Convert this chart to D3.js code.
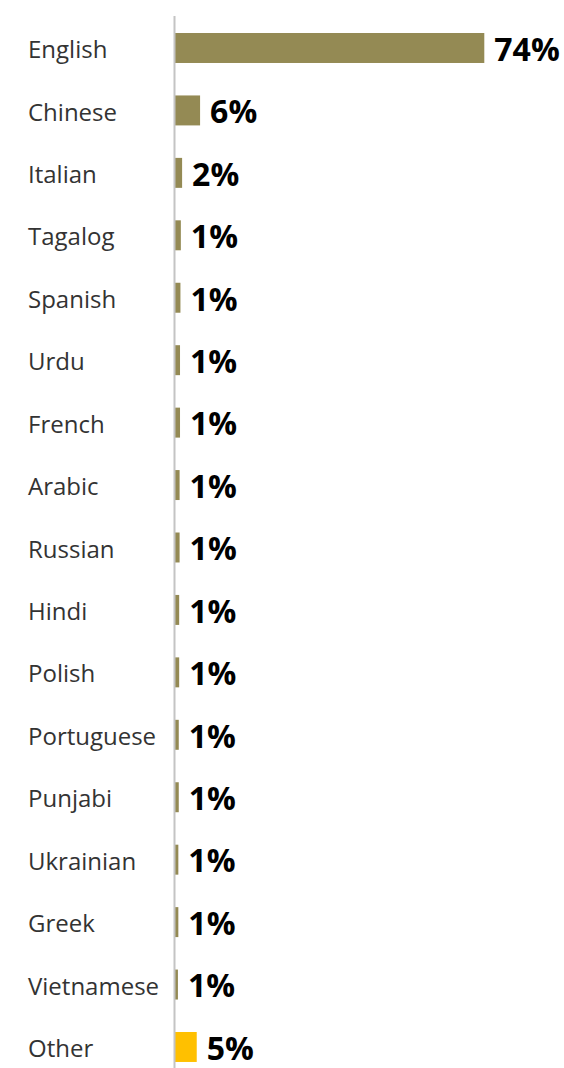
<!DOCTYPE html>
<html>
<head>
<meta charset="utf-8">
<script src="https://cdn.jsdelivr.net/npm/d3@7"></script>
<style>
  html, body { margin: 0; padding: 0; background: #fff; }
  svg { display: block; }
</style>
</head>
<body>
<svg id="chart" width="564" height="1068"></svg>
<script>
const categories = ["English","Chinese","Italian","Tagalog","Spanish","Urdu","French","Arabic","Russian","Hindi","Polish","Portuguese","Punjabi","Ukrainian","Greek","Vietnamese","Other"];
const values = [74, 6.0, 1.7, 1.4, 1.3, 1.2, 1.2, 1.1, 1.1, 1.0, 1.0, 0.9, 0.9, 0.8, 0.8, 0.7, 5.2];
const valueLabels = ["74%","6%","2%","1%","1%","1%","1%","1%","1%","1%","1%","1%","1%","1%","1%","1%","5%"];

const svg = d3.select("#chart");
const x = d3.scaleLinear().domain([0, 74]).range([175, 484.3]);
const y = d3.scaleBand().domain(categories).range([16.78, 1078.2]).paddingInner(0.52).paddingOuter(0.26);

// bars
svg.selectAll("rect.bar").data(categories).join("rect")
  .attr("class", "bar")
  .attr("x", x(0))
  .attr("y", d => y(d))
  .attr("width", (d, i) => x(values[i]) - x(0))
  .attr("height", y.bandwidth())
  .attr("fill", d => d === "Other" ? "#FFC000" : "#948A54");

// axis line
svg.append("line")
  .attr("x1", 174.5).attr("x2", 174.5)
  .attr("y1", 16).attr("y2", 1068)
  .attr("stroke", "#c4c4c4").attr("stroke-width", 2);

// category labels
svg.selectAll("text.cat").data(categories).join("text")
  .attr("class", "cat")
  .attr("x", 28)
  .attr("y", d => y(d) + y.bandwidth() / 2)
  .attr("dy", "0.42em")
  .attr("font-family", "Open Sans, sans-serif")
  .attr("font-size", 24)
  .attr("fill", "#333")
  .text(d => d);

// value labels
svg.selectAll("text.val").data(categories).join("text")
  .attr("class", "val")
  .attr("x", (d, i) => x(values[i]) + 10)
  .attr("y", d => y(d) + y.bandwidth() / 2)
  .attr("dy", "0.40em")
  .attr("font-family", "Open Sans, sans-serif")
  .attr("font-weight", "bold")
  .attr("font-size", 32)
  .attr("fill", "#000")
  .text((d, i) => valueLabels[i]);
</script>
</body>
</html>
